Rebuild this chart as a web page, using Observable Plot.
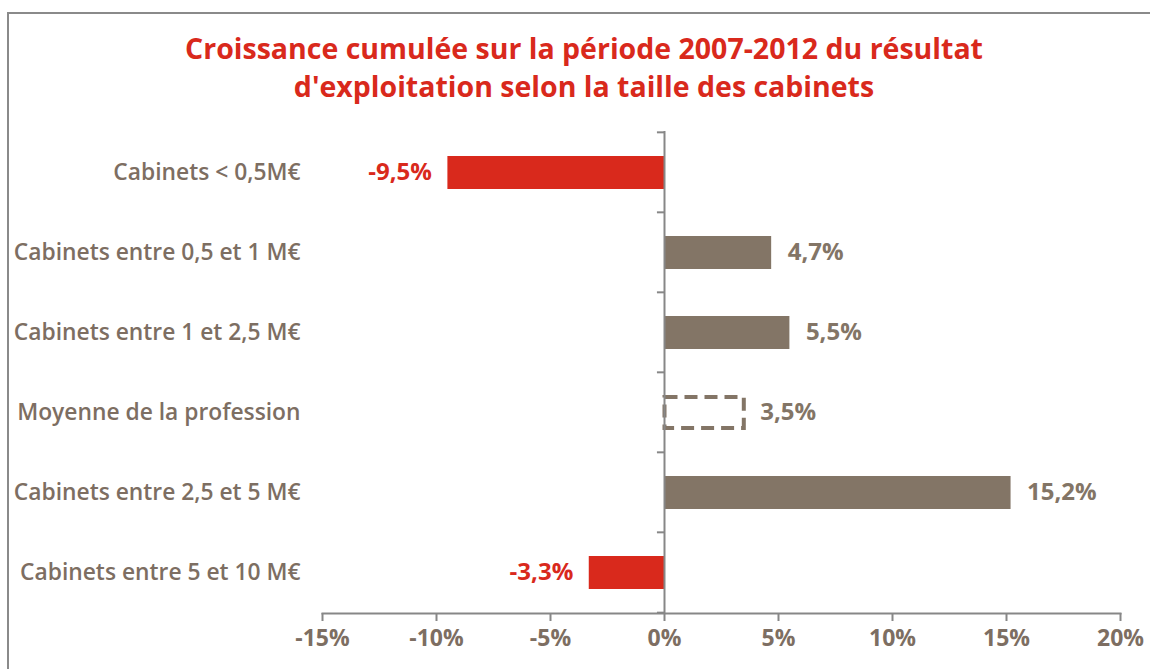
<!DOCTYPE html>
<html>
<head>
<meta charset="utf-8">
<script src="https://cdn.jsdelivr.net/npm/d3@7"></script>
<script src="https://cdn.jsdelivr.net/npm/@observablehq/plot@0.6"></script>
<style>
  html, body { margin: 0; padding: 0; background: #fff; overflow: hidden; }
  #wrap { position: relative; width: 1150px; height: 669px; overflow: hidden; font-family: "Open Sans", Lato, sans-serif; }
  #frame { position: absolute; left: 7px; top: 12px; width: 1300px; height: 800px; border: 2px solid #8a8a8a; box-sizing: border-box; }
  #title { position: absolute; left: 0; width: 1168px; top: 29px; text-align: center; color: #d9291c; font-weight: 700; font-size: 28.5px; line-height: 38px; }
  #chart { position: absolute; left: 0; top: 0; }
  #chart svg g[aria-label="x-axis tick"] path { stroke: #878787; stroke-width: 2; }
</style>
</head>
<body>
<div id="wrap">
  <div id="frame"></div>
  <div id="chart"></div>
  <div id="title">Croissance cumulée sur la période 2007-2012 du résultat<br>d'exploitation selon la taille des cabinets</div>
</div>
<script>
const categories = [
  "Cabinets < 0,5M€",
  "Cabinets entre 0,5 et 1 M€",
  "Cabinets entre 1 et 2,5 M€",
  "Moyenne de la profession",
  "Cabinets entre 2,5 et 5 M€",
  "Cabinets entre 5 et 10 M€"
];
const values = [-9.5, 4.7, 5.5, 3.5, 15.2, -3.3];
const averageCategory = "Moyenne de la profession";
const xTicks = [-15, -10, -5, 0, 5, 10, 15, 20];

const data = categories.map((c, i) => ({cat: c, v: values[i], avg: c === averageCategory}));
const solid = data.filter(d => !d.avg);
const avg = data.filter(d => d.avg);
const neg = data.filter(d => d.v < 0);
const pos = data.filter(d => d.v >= 0);
const fmt = v => v.toFixed(1).replace(".", ",") + "%";

const RED = "#d9291c", BROWN = "#837566", TEXT = "#7d6e62", GRAY = "#878787";
const H = 669, W = 1150, mt = 131, mb = 56;
const band = (H - mt - mb) / categories.length;

const chart = Plot.plot({
  width: W,
  height: H,
  marginTop: mt,
  marginBottom: mb,
  marginLeft: 322,
  marginRight: 30,
  style: {fontFamily: "'Open Sans', Lato, sans-serif", color: TEXT, background: "transparent", overflow: "visible"},
  x: {domain: [-15, 20], ticks: xTicks, tickFormat: d => d + "%", label: null},
  y: {domain: categories, paddingInner: 0, paddingOuter: 0, label: null},
  marks: [
    Plot.barX(solid, {x1: 0, x2: "v", y: "cat", fill: d => d.v < 0 ? RED : BROWN, insetTop: 24, insetBottom: 23}),
    Plot.barX(avg, {x1: 0, x2: "v", y: "cat", fill: "none", stroke: BROWN, strokeWidth: 4, strokeDasharray: "13,7", insetTop: 25, insetBottom: 24, insetLeft: 0.5}),
    Plot.text(neg, {x: "v", y: "cat", text: d => fmt(d.v), textAnchor: "end", dx: -16, fill: RED, fontSize: 24, fontWeight: 700}),
    Plot.text(pos, {x: "v", y: "cat", text: d => fmt(d.v), textAnchor: "start", dx: 16, fill: BROWN, fontSize: 24, fontWeight: 700}),
    Plot.ruleX([0], {stroke: GRAY, strokeWidth: 2}),
    Plot.ruleY(categories, {y: d => d, x1: -0.31, x2: 0, dy: -band / 2, stroke: GRAY, strokeWidth: 2}),
    Plot.ruleY([categories[categories.length - 1]], {y: d => d, x1: -0.31, x2: 0, dy: band / 2, stroke: GRAY, strokeWidth: 2}),
    Plot.frame({anchor: "bottom", stroke: GRAY, strokeWidth: 2}),
    Plot.axisX({ticks: xTicks, tickFormat: d => d + "%", tickSize: 8, tickPadding: 8, fontSize: 23, fontWeight: 700, fill: TEXT, label: null}),
    Plot.axisY({tickSize: 0, tickPadding: 22, fontSize: 22.8, fontWeight: 600, fill: TEXT, label: null})
  ]
});
document.getElementById("chart").appendChild(chart);
</script>
</body>
</html>
